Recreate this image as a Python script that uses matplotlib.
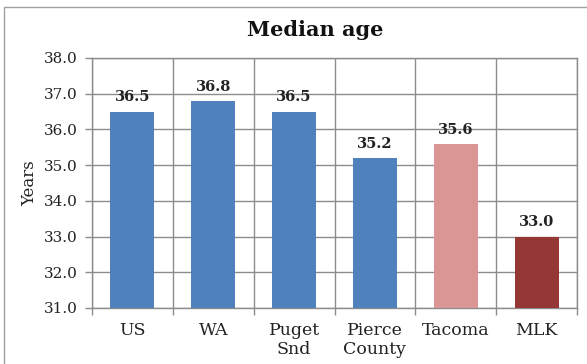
import matplotlib.pyplot as plt
from matplotlib.patches import Rectangle
import numpy as np

categories = ["US", "WA", "Puget\nSnd", "Pierce\nCounty", "Tacoma", "MLK"]
median_age = [36.5, 36.8, 36.5, 35.2, 35.6, 33.0]
bar_colors = ["#4F81BD", "#4F81BD", "#4F81BD", "#4F81BD", "#D99694", "#953735"]
y_ticks = [31.0, 32.0, 33.0, 34.0, 35.0, 36.0, 37.0, 38.0]

plt.rcParams['font.family'] = ['DejaVu Serif']

fig = plt.figure(figsize=(5.87, 3.64), dpi=100)
W, H = 587, 364
ax = fig.add_axes([92 / W, 1 - 308 / H, (577 - 92) / W, (308 - 58) / H])

# outer chart frame
fig.patches.append(Rectangle((4 / W, -0.1), 1.2, (364 - 7) / H + 0.1,
                             transform=fig.transFigure, fill=False,
                             edgecolor="#a0a0a0", linewidth=1.0))

x = np.arange(len(categories))
base = y_ticks[0]
ax.bar(x, np.array(median_age) - base, bottom=base, width=0.545,
       color=bar_colors, zorder=3)

for xi, v in zip(x, median_age):
    ax.text(xi, v + 0.2, f"{v:.1f}", ha="center", va="bottom",
            fontsize=10.5, fontweight="bold", color="#222222", zorder=4)

ax.set_xlim(-0.5, len(categories) - 0.5)
ax.set_ylim(y_ticks[0], y_ticks[-1])
ax.set_yticks(y_ticks)
ax.set_yticklabels([f"{t:.1f}" for t in y_ticks], fontsize=11, color="#222222")
ax.set_xticks(x)
ax.set_xticklabels(categories, fontsize=12.5, color="#222222", linespacing=1.15)
ax.set_xticks(np.arange(-0.5, len(categories)), minor=True)

ax.tick_params(axis="x", which="major", length=0, pad=10)
ax.tick_params(axis="x", which="minor", length=5, color="#8c8c8c", width=1)
ax.tick_params(axis="y", length=5, color="#8c8c8c", width=1, pad=5)

ax.grid(axis="y", which="major", color="#8c8c8c", linewidth=1, zorder=0)
ax.grid(axis="x", which="minor", color="#8c8c8c", linewidth=1, zorder=0)
ax.set_axisbelow(True)

for side in ["top", "right", "left", "bottom"]:
    ax.spines[side].set_color("#8c8c8c")
    ax.spines[side].set_linewidth(1)

fig.text(30 / W, 1 - 183 / H, "Years", rotation=90, ha="center", va="center",
         fontsize=12, color="#222222")
fig.text(315 / W, 1 - 30 / H, "Median age", ha="center", va="center",
         fontsize=15, fontweight="bold", color="#111111")

fig.savefig("out.png", dpi=100)
